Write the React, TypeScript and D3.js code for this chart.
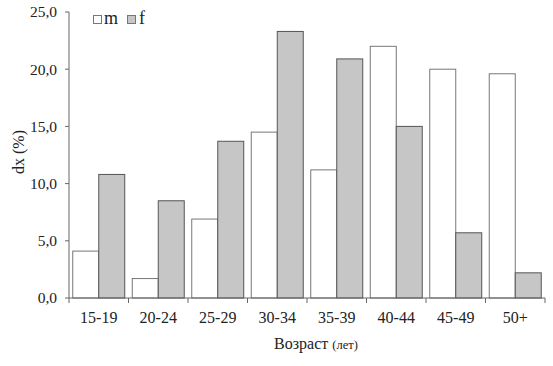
import React from "react";
import * as d3 from "d3";

const categories = ["15-19", "20-24", "25-29", "30-34", "35-39", "40-44", "45-49", "50+"];
const seriesM = [4.1, 1.7, 6.9, 14.5, 11.2, 22.0, 20.0, 19.6];
const seriesF = [10.8, 8.5, 13.7, 23.3, 20.9, 15.0, 5.7, 2.2];
const yTicks = [0, 5, 10, 15, 20, 25];

const W = 553, H = 366;
const left = 69, right = 545, top = 12, bottom = 298;
const font = "Liberation Serif";

export default function App() {
  const x = d3.scaleBand<string>().domain(categories).range([left, right]).paddingInner(0.126).paddingOuter(0.063);
  const y = d3.scaleLinear().domain([0, 25]).range([bottom, top]);
  const step = (right - left) / categories.length;
  const bw = x.bandwidth() / 2;
  const fmt = (v: number) => v.toFixed(1).replace(".", ",");
  return (
    <svg width={W} height={H} style={{ position: "absolute", left: 0, top: 0, background: "#fff" }}>
      {categories.map((c, i) => (
        <g key={c}>
          <rect x={x(c)!} y={y(seriesM[i])} width={bw} height={bottom - y(seriesM[i])} fill="#fff" stroke="#777" strokeWidth={1} />
          <rect x={x(c)! + bw} y={y(seriesF[i])} width={bw} height={bottom - y(seriesF[i])} fill="#c6c6c6" stroke="#555" strokeWidth={1} />
        </g>
      ))}
      <line x1={left} x2={left} y1={top} y2={bottom} stroke="#666" strokeWidth={1} />
      <line x1={left} x2={right} y1={bottom} y2={bottom} stroke="#666" strokeWidth={1} />
      {yTicks.map(t => (
        <g key={t}>
          <line x1={left - 4} x2={left} y1={y(t)} y2={y(t)} stroke="#666" />
          <text x={57} y={y(t)} dy="0.35em" textAnchor="end" fontFamily={font} fontSize={15.5} fill="#222">{fmt(t)}</text>
        </g>
      ))}
      {d3.range(categories.length + 1).map(i => (
        <line key={i} x1={left + i * step} x2={left + i * step} y1={bottom} y2={bottom + 5} stroke="#666" />
      ))}
      {categories.map(c => (
        <text key={c} x={x(c)! + x.bandwidth() / 2} y={323} textAnchor="middle" fontFamily={font} fontSize={16} fill="#222">{c}</text>
      ))}
      <text x={316} y={349} textAnchor="middle" fontFamily={font} fontSize={16} fill="#222">
        Возраст <tspan fontSize={12.5}>(лет)</tspan>
      </text>
      <text transform={`translate(24,152) rotate(-90)`} textAnchor="middle" fontFamily={font} fontSize={16} fill="#222">dx (%)</text>
      <rect x={93.5} y={15.5} width={8} height={8} fill="#fff" stroke="#777" />
      <text x={104} y={24} fontFamily={font} fontSize={18} fill="#222">m</text>
      <rect x={127.5} y={15.5} width={8} height={8} fill="#c6c6c6" stroke="#777" />
      <text x={139} y={24} fontFamily={font} fontSize={18} fill="#222">f</text>
    </svg>
  );
}
